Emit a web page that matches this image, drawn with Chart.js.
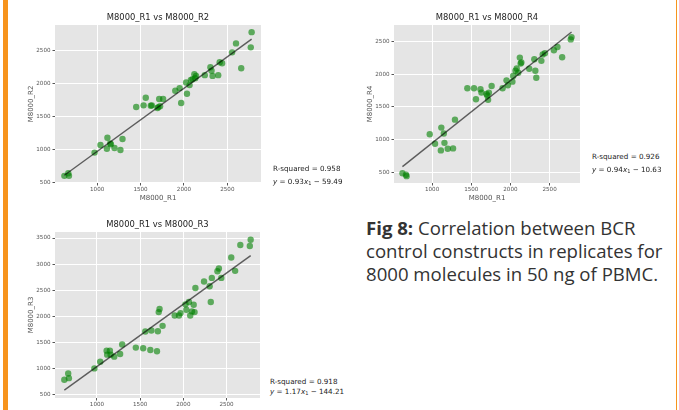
<!DOCTYPE html>
<html>
<head>
<meta charset="utf-8">
<script src="https://cdn.jsdelivr.net/npm/chart.js@4.4.1/dist/chart.umd.min.js"></script>
<style>
  body { margin: 0; width: 679px; height: 410px; background: #fff; position: relative; overflow: hidden; font-family: "DejaVu Sans", sans-serif; }
  canvas { position: absolute; }
  .bar { position: absolute; top: 0; height: 410px; background: #f7941d; }
  .note { position: absolute; font-size: 7.2px; color: #222; white-space: nowrap; line-height: 8px; }
  .note sub { font-size: 70%; vertical-align: -0.25em; line-height: 0; }
  .caption { position: absolute; left: 366px; top: 216px; font-family: "Open Sans", sans-serif; font-size: 18.6px; line-height: 23px; color: #333; white-space: nowrap; }
</style>
</head>
<body>
<canvas id="ChartR2" width="265" height="205" style="left:0;top:0"></canvas>
<canvas id="ChartR4" width="245" height="205" style="left:339px;top:0"></canvas>
<canvas id="ChartR3" width="264" height="203" style="left:0;top:207px"></canvas>

<div class="bar" style="left:3px;width:5px"></div>
<div class="bar" style="left:675.5px;width:1.5px"></div>

<div class="note" style="left:273px;top:165px">R-squared = 0.958</div>
<div class="note" style="left:273px;top:178px"><i>y</i> = 0.93<i>x</i><sub>1</sub> − 59.49</div>
<div class="note" style="left:592px;top:153px">R-squared = 0.926</div>
<div class="note" style="left:592px;top:166px"><i>y</i> = 0.94<i>x</i><sub>1</sub> − 10.63</div>
<div class="note" style="left:270px;top:378px">R-squared = 0.918</div>
<div class="note" style="left:270px;top:388px"><i>y</i> = 1.17<i>x</i><sub>1</sub> − 144.21</div>

<div class="caption"><b>Fig 8:</b> Correlation between BCR<br>control constructs in replicates for<br>8000 molecules in 50 ng of PBMC.</div>

<script>
// M8000_R1 counts (shared x of all three panels)
const r1 = [622, 667, 675, 970, 1038, 1112, 1118, 1150, 1158, 1200, 1268, 1292, 1450, 1535, 1560, 1618, 1630, 1695, 1705, 1715, 1725, 1760, 1900, 1950, 1968, 2025, 2035, 2065, 2080, 2100, 2120, 2130, 2140, 2240, 2305, 2318, 2330, 2395, 2412, 2440, 2555, 2600, 2660, 2770, 2780];
const r2 = [600, 640, 600, 953, 1070, 1013, 1180, 1093, 1080, 1023, 992, 1160, 1648, 1672, 1788, 1667, 1672, 1632, 1645, 1768, 1660, 1768, 1894, 1934, 1708, 2019, 1848, 1980, 2060, 2070, 2146, 2086, 2120, 2131, 2252, 2200, 2120, 2131, 2327, 2312, 2478, 2614, 2236, 2554, 2785];
const r3 = [788, 910, 820, 1006, 1135, 1346, 1269, 1346, 1269, 1231, 1282, 1462, 1404, 1391, 1712, 1359, 1731, 1333, 1718, 2083, 2141, 1820, 2019, 2019, 2064, 2231, 2128, 2276, 2019, 2096, 2224, 2083, 2545, 2667, 2577, 2276, 2737, 2865, 2916, 2737, 3128, 2872, 3365, 3346, 3468];
const r4 = [485, 460, 440, 1081, 934, 833, 1182, 1091, 949, 859, 864, 1303, 1783, 1783, 1616, 1768, 1717, 1697, 1672, 1606, 1717, 1818, 1783, 1904, 1828, 1884, 1970, 2050, 2086, 2020, 2252, 2161, 2176, 2081, 2227, 2050, 1944, 2202, 2298, 2320, 2363, 2414, 2257, 2530, 2565];

// fitted lines, ends as drawn
const fitX = [622, 2780];
const fitR2 = [609, 2680];
const fitR4 = [586, 2644];
const fitR3 = [591, 3162];

const xTicks = [1000, 1500, 2000, 2500];
const yTicksR2 = [500, 1000, 1500, 2000, 2500];
const yTicksR4 = [500, 1000, 1500, 2000, 2500];
const yTicksR3 = [500, 1000, 1500, 2000, 2500, 3000, 3500];

const xRange = [514, 2888];
const yRangeR2 = [491, 2894];
const yRangeR4 = [335, 2750];
const yRangeR3 = [440, 3615];

const panelPlugin = {
    id: 'panel',
    beforeDraw(chart, args, opts) {
        const { ctx, chartArea: a } = chart;
        ctx.save();
        ctx.fillStyle = '#e5e5e5';
        ctx.fillRect(a.left, a.top, a.right - a.left, a.bottom - a.top);
        ctx.fillStyle = '#222';
        ctx.font = '8.4px "DejaVu Sans"';
        ctx.textAlign = 'center';
        ctx.textBaseline = 'middle';
        ctx.fillText(opts.title, (a.left + a.right) / 2, a.top - 7);
        ctx.restore();
    }
};

function makeChart(id, title, yLabel, yData, fitY, yRange, yTicks, xLabel) {
    return new Chart(document.getElementById(id), {
        type: 'scatter',
        data: {
            datasets: [{
                type: 'line',
                data: fitX.map((x, i) => ({ x: x, y: fitY[i] })),
                borderColor: 'rgba(0,0,0,0.6)',
                borderWidth: 1.4,
                pointRadius: 0,
                order: 0
            }, {
                data: r1.map((x, i) => ({ x: x, y: yData[i] })),
                backgroundColor: 'rgba(0,128,0,0.6)',
                borderWidth: 0,
                pointRadius: 3.2,
                order: 1
            }]
        },
        options: {
            responsive: false,
            animation: false,
            events: [],
            layout: { padding: { top: 25, right: 2, left: 0, bottom: 0 } },
            plugins: {
                legend: { display: false },
                tooltip: { enabled: false },
                panel: { title: title }
            },
            scales: {
                x: {
                    type: 'linear',
                    min: xRange[0],
                    max: xRange[1],
                    afterBuildTicks: (scale) => { scale.ticks = xTicks.map(v => ({ value: v })); },
                    afterFit: (scale) => { scale.height = xLabel ? 22 : 12; },
                    grid: { color: '#ffffff', lineWidth: 1, tickColor: '#555', tickLength: 2.5 },
                    border: { display: false },
                    ticks: { color: '#555', font: { size: 5.6, family: 'DejaVu Sans' }, padding: 1, maxRotation: 0, callback: v => String(v) },
                    title: { display: !!xLabel, text: xLabel, color: '#555', font: { size: 7, family: 'DejaVu Sans' }, padding: { top: 0, bottom: 3 } }
                },
                y: {
                    min: yRange[0],
                    max: yRange[1],
                    afterBuildTicks: (scale) => { scale.ticks = yTicks.map(v => ({ value: v })); },
                    afterFit: (scale) => { scale.width = 55; },
                    grid: { color: '#ffffff', lineWidth: 1, tickColor: '#555', tickLength: 2.5 },
                    border: { display: false },
                    ticks: { color: '#555', font: { size: 5.6, family: 'DejaVu Sans' }, padding: 2, callback: v => String(v) },
                    title: { display: true, text: yLabel, color: '#555', font: { size: 7, family: 'DejaVu Sans' }, padding: { top: 27, bottom: 0 } }
                }
            }
        },
        plugins: [panelPlugin]
    });
}

makeChart('ChartR2', 'M8000_R1 vs M8000_R2', 'M8000_R2', r2, fitR2, yRangeR2, yTicksR2, 'M8000_R1');
makeChart('ChartR4', 'M8000_R1 vs M8000_R4', 'M8000_R4', r4, fitR4, yRangeR4, yTicksR4, 'M8000_R1');
makeChart('ChartR3', 'M8000_R1 vs M8000_R3', 'M8000_R3', r3, fitR3, yRangeR3, yTicksR3, null);
</script>
</body>
</html>
